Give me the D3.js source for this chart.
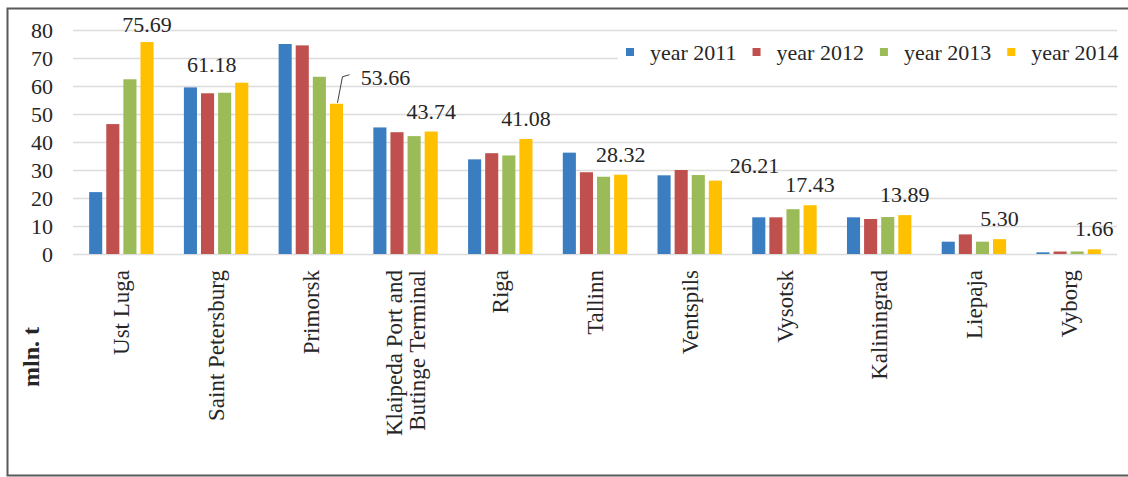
<!DOCTYPE html>
<html>
<head>
<meta charset="utf-8">
<script src="https://cdn.jsdelivr.net/npm/d3@7"></script>
<style>
  html, body { margin: 0; padding: 0; background: #fff; }
  svg { display: block; }
  svg text { font-family: "Liberation Serif", "Tinos", "DejaVu Serif", serif; fill: #262626; }
</style>
</head>
<body>
<svg id="chart" width="1128" height="477"></svg>
<script>
// ---- data ----
const categories = ["Ust Luga", "Saint Petersburg", "Primorsk", "Klaipeda Port and\nButinge Terminal", "Riga", "Tallinn", "Ventspils", "Vysotsk", "Kaliningrad", "Liepaja", "Vyborg"];
const seriesNames = ["year 2011", "year 2012", "year 2013", "year 2014"];
const year2011 = [22.1, 59.5, 75.0, 45.2, 33.8, 36.2, 28.1, 13.1, 13.1, 4.4, 0.6];
const year2012 = [46.4, 57.4, 74.5, 43.5, 36.0, 29.2, 30.0, 13.1, 12.5, 7.0, 0.9];
const year2013 = [62.4, 57.6, 63.3, 42.1, 35.2, 27.6, 28.2, 16.0, 13.2, 4.4, 0.9];
const year2014 = [75.69, 61.18, 53.66, 43.74, 41.08, 28.32, 26.21, 17.43, 13.89, 5.30, 1.66];
const yTicks = [0, 10, 20, 30, 40, 50, 60, 70, 80];
const yTitle = "mln. t";

const seriesValues = [year2011, year2012, year2013, year2014];
const colors = ["#3A7DC0", "#C0504D", "#9BBB59", "#FFC000"];

// ---- layout ----
const FONT = '"Liberation Serif", "Tinos", "DejaVu Serif", serif';
const svg = d3.select("#chart");
const plotLeft = 74, plotRight = 1116, plotTop = 30, plotBottom = 254;
const FS = 22;

const x0 = d3.scaleBand().domain(categories).range([plotLeft, plotRight]).paddingInner(0.32).paddingOuter(0.16);
const x1 = d3.scaleBand().domain(seriesNames).range([0, x0.bandwidth()]).paddingInner(0.235);
const y = d3.scaleLinear().domain([0, 80]).range([plotBottom, plotTop]);

// frame
svg.append("rect").attr("x", 7.5).attr("y", 8.5).attr("width", 1135).attr("height", 467)
  .attr("fill", "none").attr("stroke", "#595959").attr("stroke-width", 2);

// gridlines + y tick labels
const yAxis = d3.axisLeft(y).tickValues(yTicks).tickSize(-(plotRight - plotLeft + 2)).tickFormat(d3.format("d"));
const gy = svg.append("g").attr("transform", `translate(${plotLeft - 1},0)`).call(yAxis)
  .attr("font-family", FONT);
gy.select(".domain").remove();
gy.selectAll(".tick line").attr("stroke", "#dcdcdc").attr("stroke-width", 1.3);
gy.selectAll(".tick text").attr("x", -20).attr("dy", "0.34em")
  .style("font-size", FS + "px").style("font-family", FONT).attr("fill", "#262626");

const legendG = svg.append("g");

// bars
const groups = svg.append("g").selectAll("g").data(categories).join("g")
  .attr("transform", d => `translate(${x0(d)},0)`);
groups.selectAll("rect").data((c, i) => seriesNames.map((s, k) => ({ s, k, v: seriesValues[k][i] })))
  .join("rect")
  .attr("x", d => x1(d.s)).attr("width", x1.bandwidth())
  .attr("y", d => y(d.v)).attr("height", d => y(0) - y(d.v))
  .attr("fill", d => colors[d.k]);

// data labels for 2014
const labelNudge = { 0: [0, -10], 1: [-30, -11], 2: [49, -19], 6: [39, -8] };
const lab = svg.append("g");
categories.forEach((c, i) => {
  const v = year2014[i];
  const bx = x0(c) + x1("year 2014") + x1.bandwidth() / 2;
  const by = y(v);
  const [dx, dy] = labelNudge[i] || [0, -13];
  lab.append("text").attr("x", bx + dx).attr("y", by + dy).attr("text-anchor", "middle")
    .style("font-size", FS + "px").style("font-family", FONT).text(d3.format(".2f")(v));
  if (i === 2) {
    lab.append("path")
      .attr("d", `M${bx + 1},${by - 1} L${bx + 6},${by + dy - 8} L${bx + 13},${by + dy - 10}`)
      .attr("fill", "none").attr("stroke", "#404040").attr("stroke-width", 1);
  }
});

// x labels
const xl = svg.append("g");
categories.forEach(c => {
  const cx = x0(c) + x0.bandwidth() / 2;
  const lines = c.split("\n");
  const t = xl.append("text")
    .attr("transform", `translate(${cx},270) rotate(-90)`)
    .attr("text-anchor", "end")
    .style("font-size", "23px").style("font-family", FONT);
  lines.forEach((ln, j) => {
    t.append("tspan").attr("x", 0)
      .attr("dy", j === 0 ? (0.35 - (lines.length - 1) * 0.5) + "em" : "1em")
      .text(ln);
  });
});

// y title
svg.append("text").attr("transform", "translate(31,357) rotate(-90)")
  .attr("text-anchor", "middle").attr("dy", "0.35em")
  .style("font-size", "24px").style("font-weight", "bold").style("font-family", FONT).text(yTitle);

// legend
legendG.append("rect").attr("x", 618).attr("y", 40).attr("width", 505).attr("height", 26).attr("fill", "#fff");
let lx = 626;
seriesNames.forEach((s, k) => {
  legendG.append("rect").attr("x", lx).attr("y", 48).attr("width", 8).attr("height", 8).attr("fill", colors[k]);
  const t = legendG.append("text").attr("x", lx + 24).attr("y", 52).attr("dy", "0.35em")
    .style("font-size", FS + "px").style("font-family", FONT).text(s);
  const w = t.node().getComputedTextLength();
  lx = lx + 24 + w + 16;
});
</script>
</body>
</html>
